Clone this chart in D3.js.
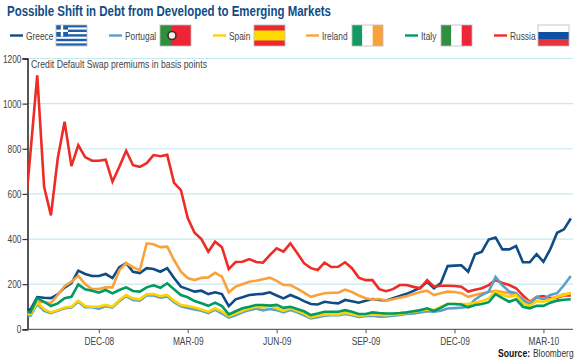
<!DOCTYPE html>
<html><head><meta charset="utf-8">
<script src="https://cdn.jsdelivr.net/npm/d3@7"></script>
<style>
html,body{margin:0;padding:0;background:#fff}
svg{display:block}
text{font-family:"Liberation Sans",Arial,sans-serif}
</style></head><body><svg id="c" width="580" height="363"></svg>
<script>
const title = "Possible Shift in Debt from Developed to Emerging Markets";
const subtitle = "Credit Default Swap premiums in basis points";
const yTicks = [0,200,400,600,800,1000,1200];
const xTickWeeks = [11,24,37,50,63,76];
const xTickLabels = ["DEC-08","MAR-09","JUN-09","SEP-09","DEC-09","MAR-10"];
const greece = [94,86,143,140,138,155,185,205,260,245,236,236,245,227,275,293,255,249,271,267,255,271,227,189,178,167,171,156,164,156,103,133,142,152,155,157,164,150,137,152,140,125,112,110,122,118,115,130,124,118,126,134,130,128,138,148,157,170,185,210,182,205,280,282,284,255,333,344,398,407,354,354,369,297,297,333,299,355,428,443,491];
const portugal = [65,60,112,82,72,82,93,97,122,98,98,92,102,96,125,147,130,127,150,150,140,145,120,102,95,88,82,72,87,70,52,62,75,85,92,84,90,85,75,85,75,62,48,54,60,62,62,68,62,55,58,60,56,57,60,64,68,70,75,80,78,82,92,94,96,100,132,152,167,232,195,167,160,130,110,143,134,152,160,195,236];
const spain = [70,66,118,89,75,85,97,100,127,103,100,100,108,100,130,152,137,133,156,156,147,152,127,108,103,97,88,78,93,78,59,70,82,92,100,97,104,93,82,93,82,70,53,60,66,66,66,73,67,60,63,66,64,62,66,68,72,78,82,88,85,100,112,112,112,112,118,125,137,167,152,144,152,115,103,125,122,130,144,152,162];
const ireland = [78,72,122,120,116,152,191,211,237,200,178,178,186,186,262,293,275,262,381,377,364,366,307,255,227,218,228,230,250,233,164,189,200,211,215,222,229,215,196,196,180,162,144,152,160,162,162,176,165,150,138,132,134,127,133,140,147,156,165,171,152,160,167,165,160,144,152,160,165,170,165,160,152,135,118,140,135,133,145,155,158];
const italy = [80,75,138,122,103,115,138,144,199,177,171,162,174,159,174,186,170,167,186,195,184,204,177,152,142,125,115,104,118,103,66,80,93,100,108,108,105,108,95,100,90,80,63,70,78,78,78,85,78,68,68,75,72,70,70,72,75,80,85,93,81,95,112,112,110,97,108,112,120,156,138,122,133,100,93,104,104,118,127,131,133];
const russia = [447,780,1125,632,505,758,920,723,816,763,747,747,752,654,720,791,727,720,736,772,767,773,649,617,493,428,400,344,388,364,267,298,299,311,298,295,329,359,344,381,338,293,271,263,295,276,277,297,271,229,218,218,178,169,178,196,196,188,182,218,189,193,193,192,189,167,175,182,196,218,205,196,182,150,122,143,147,138,140,150,150];
const names = ["Greece","Portugal","Spain","Ireland","Italy","Russia"];
const colors = ["#0f4c86","#5ba0c8","#ffd200","#f9a23c","#009a62","#ee2b24"];
const seriesValues = [greece,portugal,spain,ireland,italy,russia];
const drawOrder = [0,5,3,1,2,4];
const legendX = [10,109,213,306,405,494];
const flagX = [56,160,254,352,441,538];

const svg = d3.select("#c");
const x = d3.scaleLinear().domain([0,80]).range([23.56,570.8]);
const y = d3.scaleLinear().domain([0,1200]).range([329.3,58.5]);
const narrow = (sel,k)=>sel.each(function(){
  this.setAttribute("textLength",this.getComputedTextLength()*k);
  this.setAttribute("lengthAdjust","spacingAndGlyphs");
});

svg.append("defs").append("clipPath").attr("id","plot").append("rect")
  .attr("x",27.5).attr("y",50).attr("width",550).attr("height",285);

svg.append("text").attr("x",7).attr("y",15.6).text(title)
  .attr("font-size",14).attr("font-weight","bold").attr("fill","#0f4c86")
  .attr("textLength",324).attr("lengthAdjust","spacingAndGlyphs");

// grid
svg.append("g").selectAll("line").data(yTicks.slice(1)).join("line")
  .attr("x1",27.5).attr("x2",573).attr("y1",d=>y(d)).attr("y2",d=>y(d))
  .attr("stroke","#c6e9ef").attr("stroke-width",1.2);

// axes
const gy = svg.append("g").attr("transform","translate(27.5,0)")
  .call(d3.axisLeft(y).tickValues(yTicks).tickSize(5).tickPadding(1).tickFormat(d3.format("d")));
const gx = svg.append("g").attr("transform","translate(0,329.3)")
  .call(d3.axisBottom(x).tickValues(xTickWeeks).tickSize(4).tickPadding(4)
    .tickFormat((d,i)=>xTickLabels[i]));
gy.select(".domain").attr("stroke","#111").attr("stroke-width",1.4);
gx.select(".domain").attr("d","M27.5,0H573").attr("stroke","#666").attr("stroke-width",1.2);
gy.selectAll(".tick line").attr("stroke","#333").attr("stroke-width",1.2);
gx.selectAll(".tick line").attr("stroke","#555");
[gx,gy].forEach(g=>g.selectAll("text").attr("font-size",11).attr("fill","#444")
  .style("font-family",'"Liberation Sans",Arial,sans-serif').call(narrow,0.76));

svg.append("text").attr("x",31).attr("y",68).text(subtitle)
  .attr("font-size",11).attr("fill","#444")
  .attr("textLength",176).attr("lengthAdjust","spacingAndGlyphs");

// lines
const line = d3.line().x((d,i)=>x(i)).y(d=>y(d)).curve(d3.curveLinear);
svg.append("g").attr("clip-path","url(#plot)").selectAll("path").data(drawOrder).join("path")
  .attr("d",k=>line(seriesValues[k])).attr("fill","none")
  .attr("stroke",k=>colors[k]).attr("stroke-width",2.6).attr("stroke-linejoin","miter");

// legend
const lg = svg.append("g");
names.forEach((n,k)=>{
  lg.append("line").attr("x1",legendX[k]).attr("x2",legendX[k]+13).attr("y1",35.5).attr("y2",35.5)
    .attr("stroke",colors[k]).attr("stroke-width",2.4);
  lg.append("text").attr("x",legendX[k]+16).attr("y",39.5).text(n)
    .attr("font-size",11).attr("fill","#444").call(narrow,0.76);
});
function rect(g,a,b,w,h,c){g.append("rect").attr("x",a).attr("y",b).attr("width",w).attr("height",h).attr("fill",c);}
const fw=31, fh=21;
const flagPainters = [
 g=>{ rect(g,0,0,fw,fh,"#fff");
      for(let i=0;i<5;i++) rect(g,0,i*4.6,fw,2.4,"#1d5ea8");
      rect(g,0,0,12,11.5,"#1d5ea8"); rect(g,4.8,0,2.4,11.5,"#fff"); rect(g,0,4.6,12,2.4,"#fff"); },
 g=>{ rect(g,0,0,12,fh,"#2f8f3f"); rect(g,12,0,19,fh,"#ee2536");
      g.append("circle").attr("cx",12).attr("cy",10.5).attr("r",4).attr("fill","#f3f0e8").attr("stroke","#333").attr("stroke-width",1.6); },
 g=>{ rect(g,0,0,fw,fh,"#ee2536"); rect(g,0,5.5,fw,10,"#ffdc00"); },
 g=>{ rect(g,0,0,10.3,fh,"#139a63"); rect(g,10.3,0,10.4,fh,"#fff"); rect(g,20.7,0,10.3,fh,"#f9a23c"); },
 g=>{ rect(g,0,0,10.3,fh,"#2f8f3f"); rect(g,10.3,0,10.4,fh,"#fff"); rect(g,20.7,0,10.3,fh,"#ee2536"); },
 g=>{ rect(g,0,0,fw,7,"#fff"); rect(g,0,7,fw,7,"#0f4ea2"); rect(g,0,14,fw,7,"#e5343c"); }
];
flagPainters.forEach((p,k)=>{
  const g = lg.append("g").attr("transform",`translate(${flagX[k]},25)`);
  p(g);
  g.append("rect").attr("width",fw).attr("height",fh).attr("fill","none").attr("stroke","#bbb").attr("stroke-width",0.8);
});

// source
svg.append("text").attr("transform","translate(498,356.5) scale(0.82,1)").text("Source:")
  .attr("font-size",10.5).attr("font-weight","bold").attr("fill","#111");
svg.append("text").attr("transform","translate(533,356.5) scale(0.8,1)").text("Bloomberg")
  .attr("font-size",10.5).attr("fill","#333");
</script></body></html>
